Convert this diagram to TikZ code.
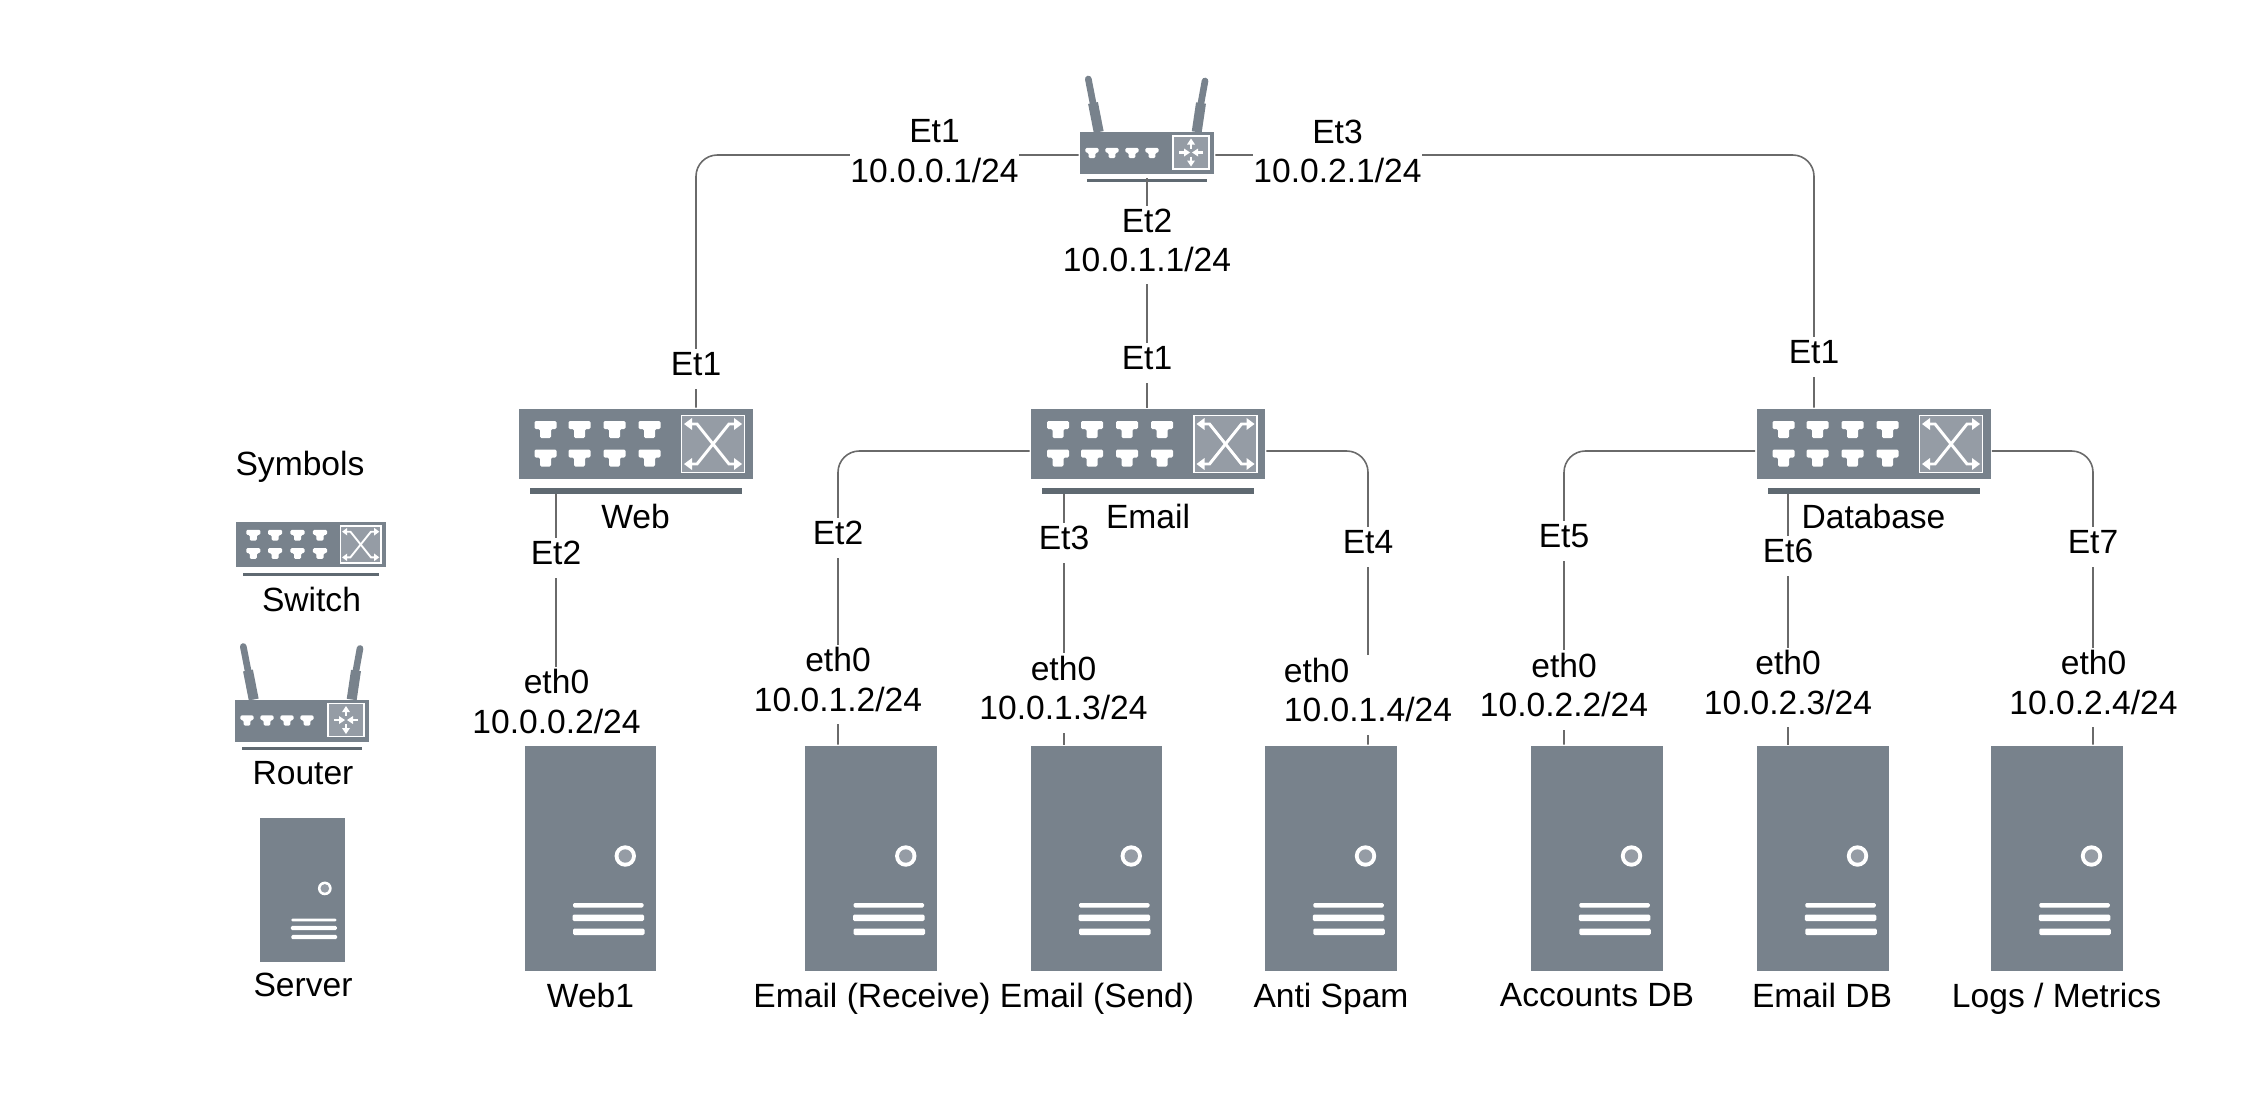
\documentclass[tikz,border=0pt]{standalone}
\usepackage{fontspec}
\setmainfont{Liberation Sans}
\usetikzlibrary{calc}
\definecolor{devbody}{HTML}{78828C}
\definecolor{devinner}{HTML}{959CA5}
\definecolor{devbar}{HTML}{5F6971}
\definecolor{linkgray}{HTML}{6A6A6A}
\newcommand{\porticon}[3]{\fill[white,shift={(#1,#2)},scale=#3,rounded corners=1pt] (-11,8.5) -- (11,8.5) -- (11,0.5) -- (5.5,0.5) -- (5.5,-8.5) -- (-5.5,-8.5) -- (-5.5,0.5) -- (-11,0.5) -- cycle;}
\tikzset{
  link/.style={draw=linkgray,line width=1.2pt,rounded corners=16pt},
  txt/.style={font=\fontsize{25.2}{29.6}\selectfont,inner xsep=0pt,inner ysep=2.25pt,text depth=7.5pt,fill=white,align=center},
  iconbig/.style={line width=2.2pt},
  iconsmall/.style={transform shape,xscale=#1,yscale=-#1,line width=1.4pt},
  switchicon/.pic={
    \node[fill=devbody,inner sep=0pt,minimum width=175.5pt,minimum height=52.5pt] (-body) at (0,0) {};
    \fill[devbar] (-106,-44) rectangle (106,-49.5);
    \foreach \px in {-90,-56,-21,14}
      \foreach \py in {14.5,-14}
        \porticon{\px}{\py}{1}
    \draw[white,fill=devinner,line width=1.3pt] (46,-28.5) rectangle (109,28.5);
    \begin{scope}[shift={(77.5,0)}]
      \draw[white] (-22,-20) -- (-16,-20) -- (16,20) -- (22,20);
      \draw[white] (22,-20) -- (16,-20) -- (-16,20) -- (-22,20);
      \foreach \sx/\sy in {1/1,1/-1,-1/1,-1/-1}
        \fill[white] (\sx*29,\sy*20) -- (\sx*21,\sy*14) -- (\sx*21,\sy*26) -- cycle;
    \end{scope}
  },
  routericon/.pic={
    \draw[devbody,line width=7.5pt] (-48.3,21) -- (-54,50);
    \draw[devbody,line width=5pt,line cap=round] (-54,50) -- (-58.7,74);
    \draw[devbody,line width=7.5pt] (49.7,21) -- (54,50);
    \draw[devbody,line width=5pt,line cap=round] (54,50) -- (58,72);
    \node[fill=devbody,inner sep=0pt,minimum width=100.5pt,minimum height=31.5pt] (-body) at (0,0) {};
    \fill[devbar] (-60,-26) rectangle (60,-29);
    \foreach \px in {-55,-35,-15,5}
      \porticon{\px}{0}{0.6}
    \draw[white,fill=devinner,line width=1pt] (26,17) rectangle (62,-16);
    \begin{scope}[shift={(44,0.5)}]
      \draw[white,line width=1.6pt] (0,-4) -- (0,-9) (0,4) -- (0,9) (-12,0) -- (-6,0) (12,0) -- (6,0);
      \fill[white] (0,-14) -- (-4,-8) -- (4,-8) -- cycle;
      \fill[white] (0,14) -- (-4,8) -- (4,8) -- cycle;
      \fill[white] (-1,0) -- (-7,-4) -- (-7,4) -- cycle;
      \fill[white] (1,0) -- (7,-4) -- (7,4) -- cycle;
    \end{scope}
  },
  servericon/.pic={
    \node[fill=devbody,inner sep=0pt,minimum width=98.6pt,minimum height=168.75pt] (-body) at (0,0) {};
    \fill[white] (34.75,2.5) circle (10.7);
    \fill[devinner] (34.75,2.5) circle (6.7);
    \fill[white,rounded corners=1pt] (-17.5,-44.5) rectangle (53,-49);
    \fill[white,rounded corners=1pt] (-18,-56) rectangle (53.5,-62.5);
    \fill[white,rounded corners=1pt] (-17.5,-70) rectangle (54,-76.5);
  },
}
\begin{document}
\begin{tikzpicture}[x=0.75pt,y=0.75pt,yscale=-1,xscale=1]
\useasboundingbox (0,0) rectangle (2254,1103);

% Devices
\pic[iconbig] (router) at (1147,153) {routericon};
\pic[iconbig] (web) at (635.5,444) {switchicon};
\pic[iconbig] (email) at (1148,444) {switchicon};
\pic[iconbig] (db) at (1873.5,444) {switchicon};
\foreach \nm/\cx in {web1/590.5,recv/871,send/1096.5,anti/1330.75,acct/1596.75,maildb/1822.75,logs/2056.75}
  \pic[iconbig] (\nm) at (\cx,858.5) {servericon};

% Symbols column
\pic[iconsmall=0.641] (symswitch) at (311,544.5) {switchicon};
\pic[iconbig] (symrouter) at (302,720.5) {routericon};
\pic[iconsmall=0.642] (symserver) at (302.5,890) {servericon};

% Links
\draw[link] ($(router-body.west)+(0,2)$) -| ($(web-body.north)+(60.5,0)$);
\draw[link] ($(router-body.south)+(0,3)$) -- (router-body.south |- email-body.north);
\draw[link] ($(router-body.east)+(0,2)$) -| ($(db-body.north)+(-59.5,0)$);
\draw[link] ($(web-body.south)+(-79.5,14)$) -- ($(web1-body.north)+(-34.5,0)$);
\draw[link] ($(email-body.west)+(0,7)$) -| ($(recv-body.north)+(-33,0)$);
\draw[link] ($(email-body.south)+(-84,14)$) -- ($(send-body.north)+(-32.5,0)$);
\draw[link] ($(email-body.east)+(0,7)$) -| ($(anti-body.north)+(37.25,0)$);
\draw[link] ($(db-body.west)+(0,7)$) -| ($(acct-body.north)+(-32.75,0)$);
\draw[link] ($(db-body.south)+(-85.5,14)$) -- ($(maildb-body.north)+(-34.75,0)$);
\draw[link] ($(db-body.east)+(0,7)$) -| ($(logs-body.north)+(36.25,0)$);

% Text Node
\node[txt] (ra) at (934.5,156) {Et1\\10.0.0.1/24};
\node[txt] (rb) at (1147,245) {Et2\\10.0.1.1/24};
\node[txt] (rc) at (1337.5,156) {Et3\\10.0.2.1/24};
\node[txt] (wup) at (696,369) {Et1};
\node[txt] (eup) at (1147,363) {Et1};
\node[txt] (dup) at (1814,357) {Et1};
\node[txt] (wet) at (556,558) {Et2};
\node[txt] (eeta) at (838,538) {Et2};
\node[txt] (eetb) at (1064,543) {Et3};
\node[txt] (eetc) at (1368,547) {Et4};
\node[txt] (deta) at (1564,541) {Et5};
\node[txt] (detb) at (1788,556) {Et6};
\node[txt] (detc) at (2093,547) {Et7};
\node[txt] (ipweb) at (556.5,706.5) {eth0\\10.0.0.2/24};
\node[txt] (iprecv) at (838,684.5) {eth0\\10.0.1.2/24};
\node[txt] (ipsend) at (1063.5,693) {eth0\\10.0.1.3/24};
\node[txt,align=left] (ipanti) at (1368,695) {eth0\\10.0.1.4/24};
\node[txt] (ipacct) at (1564,690) {eth0\\10.0.2.2/24};
\node[txt] (ipmaildb) at (1788,687.5) {eth0\\10.0.2.3/24};
\node[txt] (iplogs) at (2093.5,687.5) {eth0\\10.0.2.4/24};
\node[txt,fill=none] (lweb) at (635.5,521.5) {Web};
\node[txt,fill=none] (lemail) at (1148,521.5) {Email};
\node[txt,fill=none] (ldb) at (1873.5,521.5) {Database};
\node[txt,fill=none] (lweba) at (590.5,1000) {Web1};
\node[txt,fill=none] (lrecv) at (872,1000) {Email (Receive)};
\node[txt,fill=none] (lsend) at (1097,1000) {Email (Send)};
\node[txt,fill=none] (lanti) at (1331,1000) {Anti Spam};
\node[txt,fill=none] (lacct) at (1597,1000) {Accounts DB};
\node[txt,fill=none] (lmaildb) at (1822,1000) {Email DB};
\node[txt,fill=none] (llogs) at (2056.5,1000) {Logs / Metrics};
\node[txt,fill=none] (lsym) at (300,468) {Symbols};
\node[txt,fill=none] (lswitch) at (311.5,604) {Switch};
\node[txt,fill=none] (lrouter) at (303,778) {Router};
\node[txt,fill=none] (lserver) at (303,989.5) {Server};

\end{tikzpicture}
\end{document}
